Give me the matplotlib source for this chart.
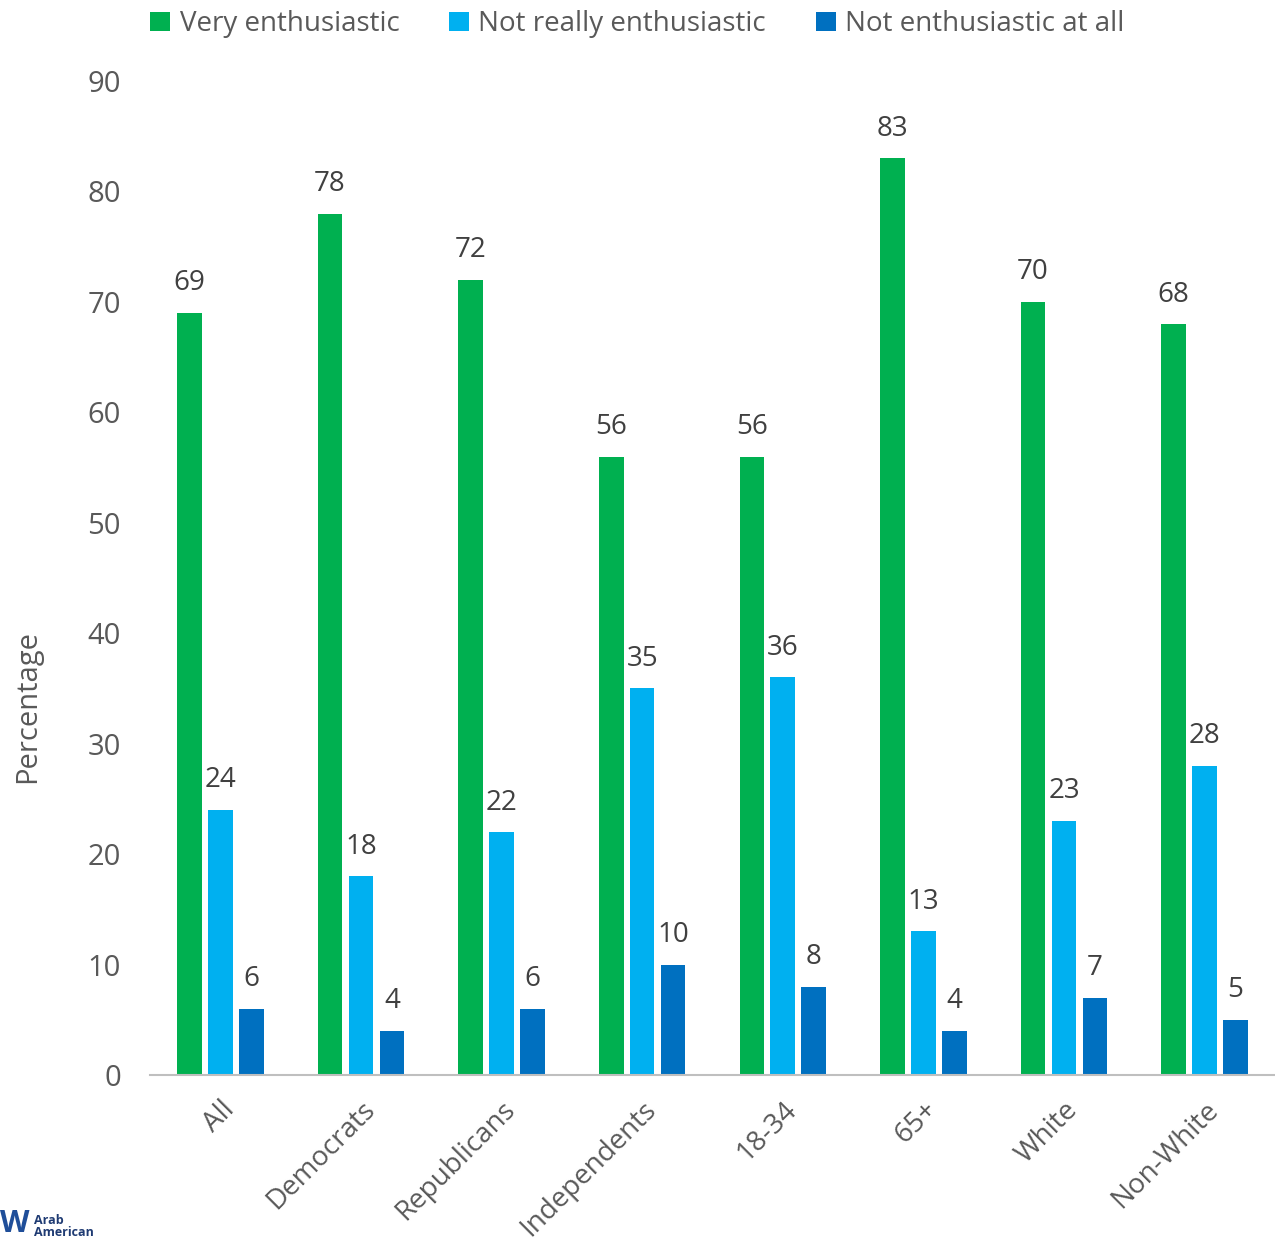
import matplotlib.pyplot as plt
import matplotlib.transforms as mtransforms
import numpy as np

plt.rcParams['font.family'] = ['Open Sans', 'DejaVu Sans']

groups = ['All', 'Democrats', 'Republicans', 'Independents', '18-34', '65+', 'White', 'Non-White']
very = [69, 78, 72, 56, 56, 83, 70, 68]
not_really = [24, 18, 22, 35, 36, 13, 23, 28]
not_at_all = [6, 4, 6, 10, 8, 4, 7, 5]

series = [('Very enthusiastic', very, '#00B050'),
          ('Not really enthusiastic', not_really, '#00B0F0'),
          ('Not enthusiastic at all', not_at_all, '#0070C0')]

txt = '#595959'
fig = plt.figure(figsize=(12.75, 12.41), dpi=100)
ax = fig.add_axes([0.1176, 0.1338, 0.8824, 0.8009])

x = np.arange(len(groups))
w = 0.175
step = 0.22
for i, (name, vals, col) in enumerate(series):
    pos = x + (i - 1) * step
    ax.bar(pos, vals, w, color=col, label=name)
    for p, v in zip(pos, vals):
        ax.text(p, v + 1.4, str(v), ha='center', va='bottom', fontsize=20, color='#404040')

ax.set_xlim(-0.5, 7.5)
ax.set_ylim(0, 90)
ax.set_yticks(range(0, 91, 10))
ax.set_xticks(x)
ax.set_xticklabels(groups, rotation=45, ha='right', rotation_mode='anchor', fontsize=20, color=txt)
# nudge the rotated labels a little to the left
shift = mtransforms.ScaledTranslation(-6 / 100, 0, fig.dpi_scale_trans)
for lab in ax.get_xticklabels():
    lab.set_transform(lab.get_transform() + shift)
ax.tick_params(axis='y', length=0, labelsize=21, labelcolor=txt, pad=21)
ax.tick_params(axis='x', length=0, pad=15)
for s in ['top', 'right', 'left']:
    ax.spines[s].set_visible(False)
ax.spines['bottom'].set_color('#BFBFBF')
ax.spines['bottom'].set_linewidth(1.5)

fig.text(0.022, 0.431, 'Percentage', rotation=90, fontsize=21, color=txt, ha='center', va='center')

fig.legend(loc='upper center', bbox_to_anchor=(0.5, 1.012), ncol=3, frameon=False,
           fontsize=20, handlelength=0.7, handleheight=0.7, handletextpad=0.35,
           columnspacing=1.8, labelcolor=txt)

# logo fragment at the bottom left
fig.text(0.0, 0.002, 'W', fontsize=22, fontweight='bold', color='#1F4E99', ha='left', va='bottom')
fig.text(0.027, 0.002, 'Arab\nAmerican', fontsize=9, fontweight='bold', color='#1F3B73',
         va='bottom', ha='left', linespacing=0.9)

fig.savefig('out.png', dpi=100)
